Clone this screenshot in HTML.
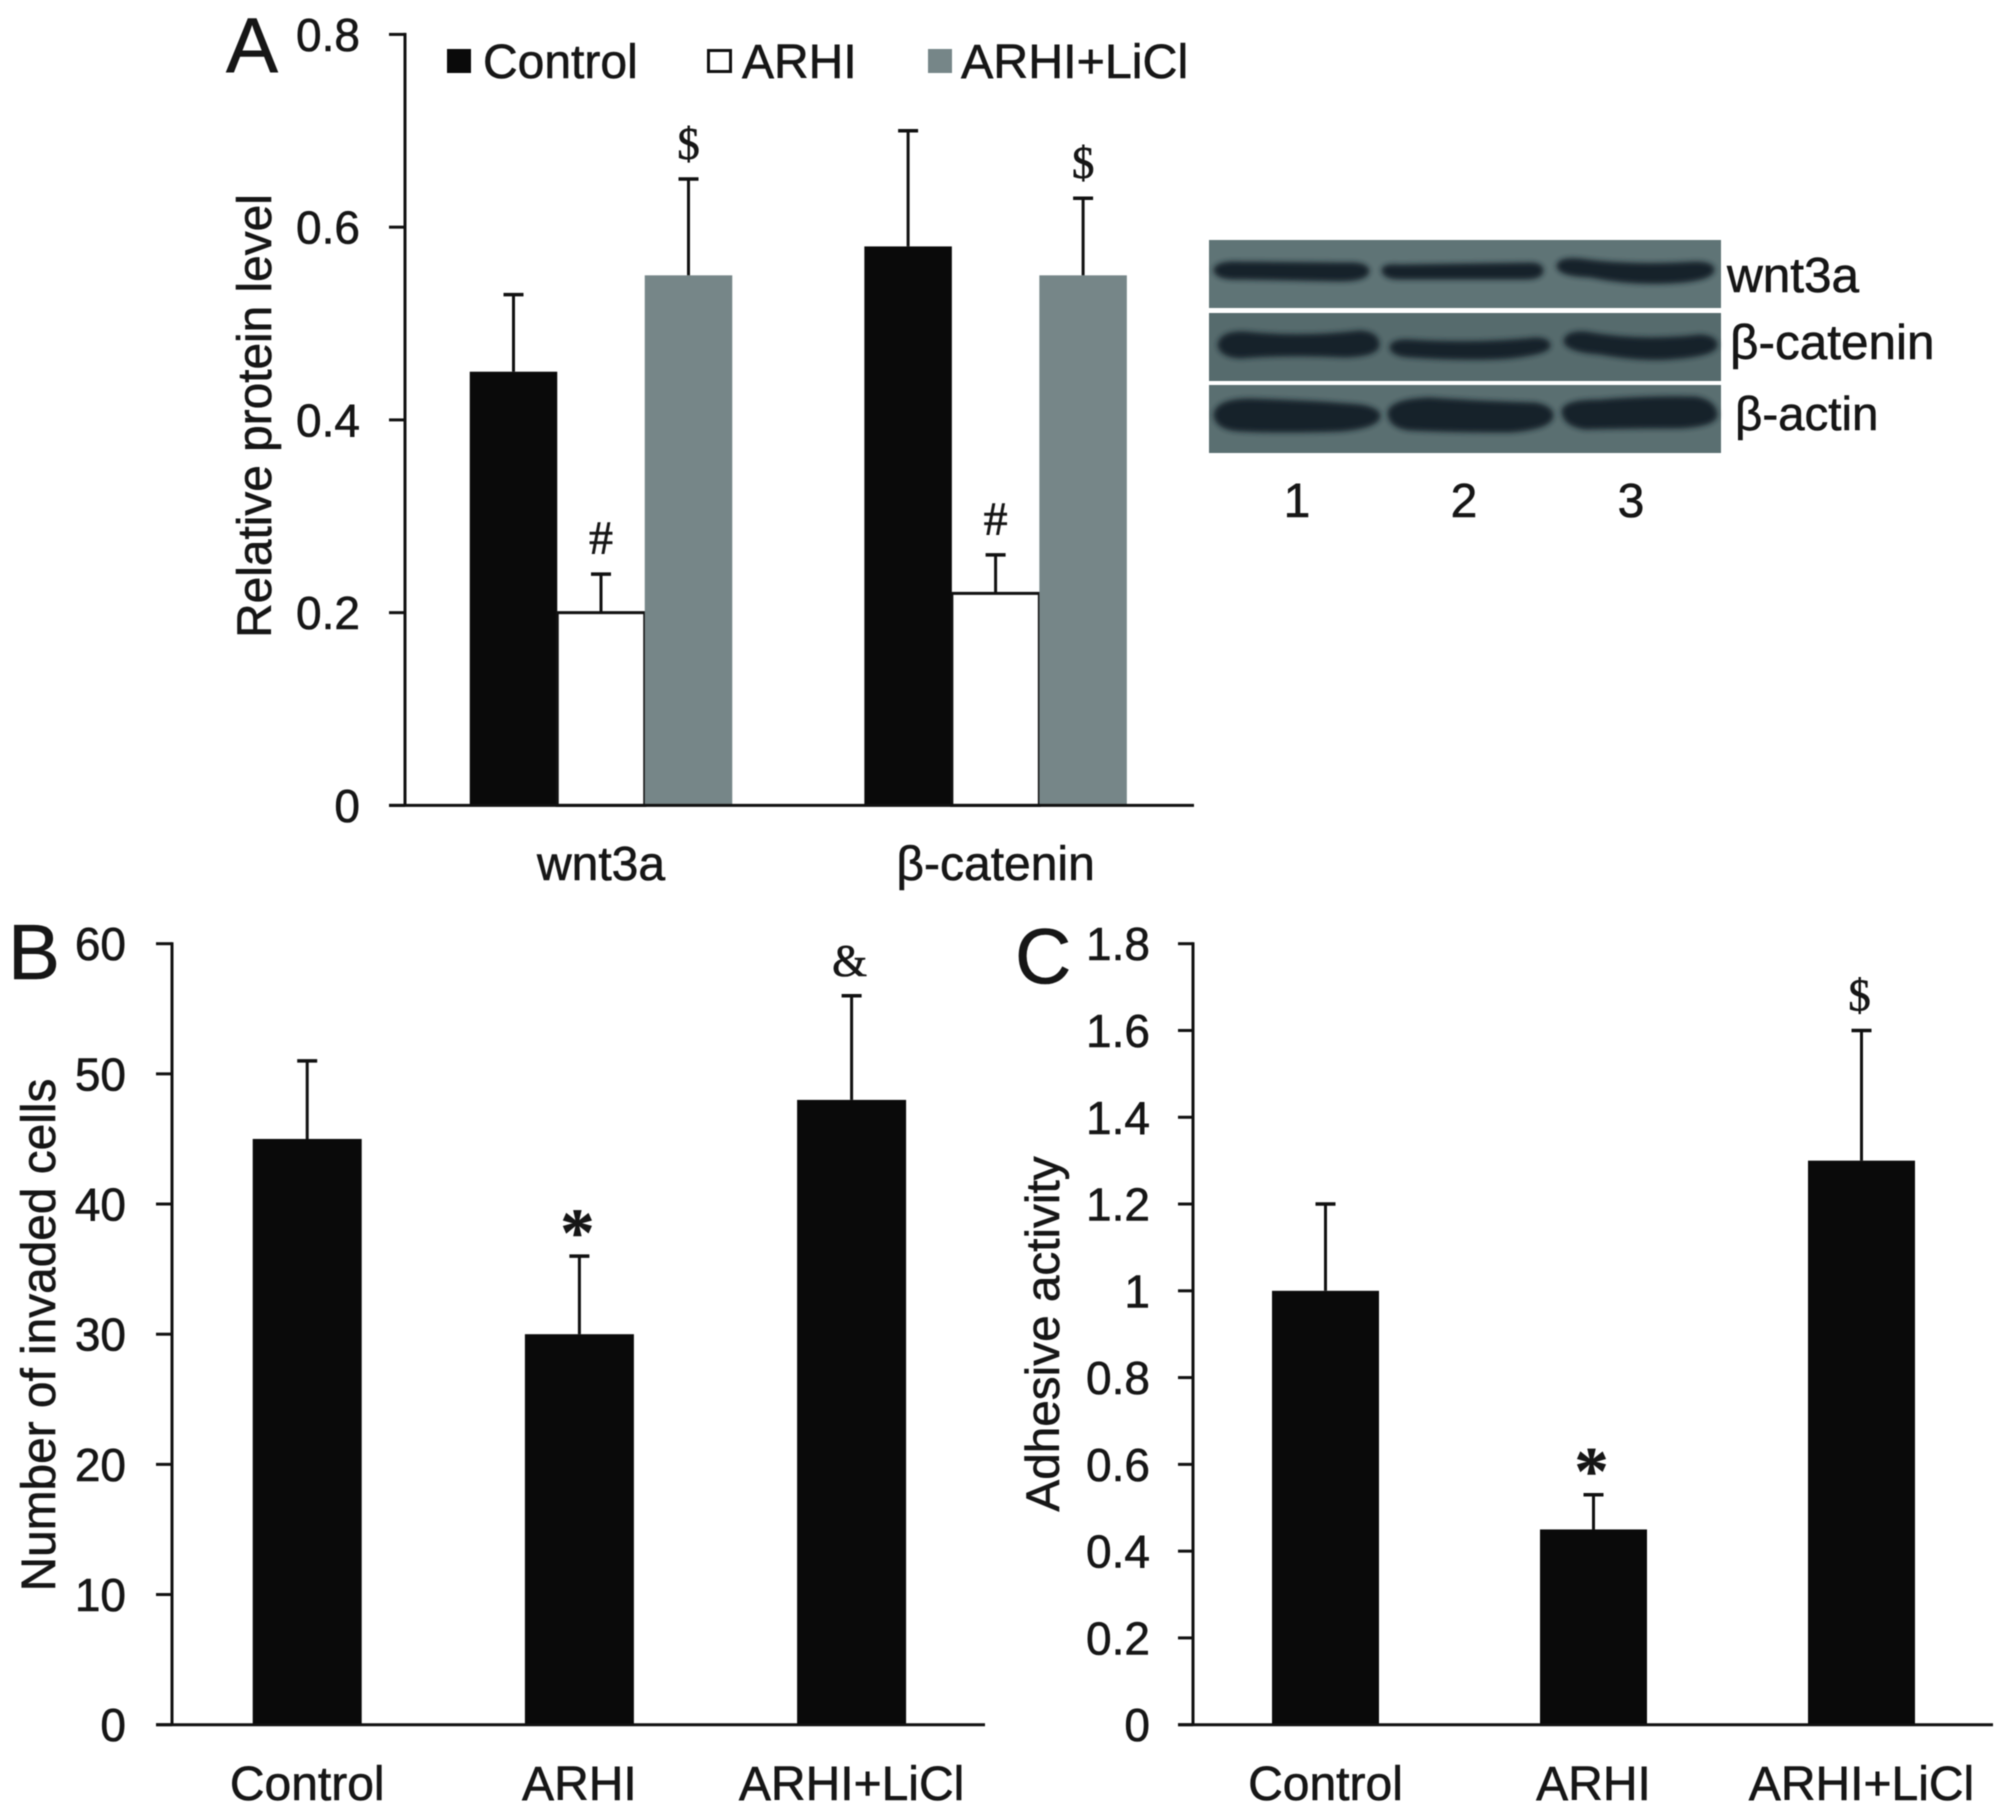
<!DOCTYPE html>
<html lang="en">
<head>
<meta charset="utf-8">
<title>ARHI, wnt3a and β-catenin bar charts</title>
<style>
html,body{margin:0;padding:0;background:#fff;width:2008px;height:1813px;overflow:hidden}
svg{display:block;filter:blur(.5px)}
text{font-family:"Liberation Sans",Arial,sans-serif;fill:#161616;stroke:#161616;stroke-width:.6px}
.ser{font-family:"Liberation Serif","Times New Roman",serif}
</style>
</head>
<body>
<svg id="fig" xmlns="http://www.w3.org/2000/svg" width="2008" height="1813" viewBox="0 0 2008 1813">
  <defs>
    <filter id="bandBlur" x="-10%" y="-60%" width="120%" height="220%"><feGaussianBlur stdDeviation="2.6"/></filter>
  </defs>
  <rect width="2008" height="1813" fill="#fff"/>

  <text x="226" y="72" font-size="78">A</text>
  <text x="8" y="979" font-size="78">B</text>
  <text x="1015" y="983" font-size="78">C</text>

  <text transform="translate(271,416) rotate(-90)" text-anchor="middle" font-size="47.8">Relative protein level</text>
  <text transform="translate(55,1335) rotate(-90)" text-anchor="middle" font-size="47.8">Number of invaded cells</text>
  <text transform="translate(1059,1334) rotate(-90)" text-anchor="middle" font-size="47.7">Adhesive activity</text>

  <g>
    <rect x="447" y="49" width="24" height="24" fill="#0a0a0a"/>
    <text x="483" y="78" font-size="48">Control</text>
    <rect x="708.5" y="50.5" width="22" height="21" fill="#fff" stroke="#111" stroke-width="3"/>
    <text x="742" y="78" font-size="48">ARHI</text>
    <rect x="928" y="49" width="24" height="24" fill="#768688"/>
    <text x="961" y="78" font-size="48.4">ARHI+LiCl</text>
  </g>

  <g>
    <rect x="1209" y="240" width="512" height="68" fill="#5f7476"/>
    <rect x="1209" y="313" width="512" height="68" fill="#566b6d"/>
    <rect x="1209" y="385" width="512" height="68" fill="#5a6f71"/>
    <g filter="url(#bandBlur)" fill="#18232a" stroke="#18232a" stroke-width="5">
      <path d="M1216 270Q1218 263 1240 264L1345 265Q1366 264 1367 271Q1366 279 1340 279L1240 277Q1218 278 1216 270Z"/>
      <path d="M1384 270Q1385 266 1400 267L1530 265Q1541 265 1541 271Q1540 277 1525 277L1400 277Q1385 277 1384 270Z"/>
      <path d="M1559 266Q1560 259 1580 261Q1630 268 1695 264Q1712 264 1712 270Q1710 279 1670 281Q1630 283 1590 275Q1560 274 1559 266Z"/>
      <path d="M1220 345Q1222 333 1245 334Q1300 340 1360 333Q1377 334 1377 345Q1376 354 1345 355Q1290 352 1240 356Q1222 355 1220 345Z"/>
      <path d="M1392 347Q1394 341 1410 342Q1480 346 1535 340Q1548 340 1548 346Q1546 352 1510 356Q1470 359 1410 355Q1393 354 1392 347Z"/>
      <path d="M1566 341Q1568 333 1585 334Q1640 344 1700 337Q1715 338 1715 345Q1714 354 1670 357Q1640 359 1600 352Q1568 350 1566 341Z"/>
      <path d="M1216 415Q1218 401 1250 401Q1320 403 1360 407Q1378 410 1378 416Q1376 426 1340 429Q1280 431 1240 429Q1218 428 1216 415Z"/>
      <path d="M1390 413Q1392 401 1430 400Q1490 404 1535 405Q1551 408 1551 416Q1549 427 1510 430Q1450 430 1410 428Q1391 426 1390 413Z"/>
      <path d="M1564 411Q1566 402 1600 402Q1650 398 1695 399Q1714 402 1715 415Q1714 424 1680 426Q1630 426 1585 427Q1565 424 1564 411Z"/>
    </g>
    <text x="1727" y="292" font-size="49.5">wnt3a</text>
    <text x="1730" y="359" font-size="49.5">β-catenin</text>
    <text x="1735" y="430" font-size="47.5">β-actin</text>
    <text x="1297" y="517" font-size="48" text-anchor="middle">1</text>
    <text x="1464" y="517" font-size="48" text-anchor="middle">2</text>
    <text x="1631" y="517" font-size="48" text-anchor="middle">3</text>
  </g>

  <g id="panelA"></g>
  <g id="panelB"></g>
  <g id="panelC"></g>
</svg>

<script>
// Panel A data
const aCategories = ['wnt3a', 'β-catenin'];
const aSeriesNames = ['control', 'arhi', 'arhi-licl'];
const aControl = [0.45, 0.58];
const aControlErr = [0.08, 0.12];
const aArhi = [0.20, 0.22];
const aArhiErr = [0.04, 0.04];
const aLicl = [0.55, 0.55];
const aLiclErr = [0.10, 0.08];
const aControlMarks = ['', ''];
const aArhiMarks = ['#', '#'];
const aLiclMarks = ['$', '$'];
const aTicks = [0, 0.2, 0.4, 0.6, 0.8];
const aTickLabels = ['0', '0.2', '0.4', '0.6', '0.8'];

// Panel B data
const bCategories = ['Control', 'ARHI', 'ARHI+LiCl'];
const bValues = [45, 30, 48];
const bErrors = [6, 6, 8];
const bMarks = ['', '*', '&'];
const bTicks = [0, 10, 20, 30, 40, 50, 60];
const bTickLabels = ['0', '10', '20', '30', '40', '50', '60'];

// Panel C data
const cCategories = ['Control', 'ARHI', 'ARHI+LiCl'];
const cValues = [1.0, 0.45, 1.3];
const cErrors = [0.2, 0.08, 0.3];
const cMarks = ['', '*', '$'];
const cTicks = [0, 0.2, 0.4, 0.6, 0.8, 1, 1.2, 1.4, 1.6, 1.8];
const cTickLabels = ['0', '0.2', '0.4', '0.6', '0.8', '1', '1.2', '1.4', '1.6', '1.8'];

const NS = 'http://www.w3.org/2000/svg';
const INK = '#111';

function mk(tag, attrs, parent) {
  const el = document.createElementNS(NS, tag);
  for (const k in attrs) el.setAttribute(k, attrs[k]);
  parent.appendChild(el);
  return el;
}

function linearScale(d0, d1, r0, r1) {
  return v => r0 + (v - d0) * (r1 - r0) / (d1 - d0);
}

function drawAxes(g, key, geo, ticks, labels, y) {
  const yAxis = mk('line', {x1: geo.axisX, x2: geo.axisX, y1: y(ticks[ticks.length - 1]) - 1.5, y2: geo.y0, stroke: INK, 'stroke-width': 3}, g);
  
  
  const xAxis = mk('line', {x1: geo.tickX, x2: geo.axisRight, y1: geo.y0, y2: geo.y0, stroke: INK, 'stroke-width': 3}, g);
  
  
  ticks.forEach((t, i) => {
    const tick = mk('line', {x1: geo.tickX, x2: geo.axisX, y1: y(t), y2: y(t), stroke: INK, 'stroke-width': 3}, g);
    
    
    const lab = mk('text', {x: geo.labelRight, y: y(t) + 16.5, 'text-anchor': 'end', 'font-size': 46}, g);
    lab.textContent = labels[i];
    
    
  });
}

function drawBar(g, key, cx, w, value, err, fill, y, geo, outlined) {
  const top = y(value + err);
  const stem = mk('line', {x1: cx, x2: cx, y1: y(value), y2: top, stroke: INK, 'stroke-width': 3}, g);
  
  
  const cap = mk('line', {x1: cx - 10, x2: cx + 10, y1: top, y2: top, stroke: INK, 'stroke-width': 3.5}, g);
  
  
  const attrs = {x: cx - w / 2, y: y(value), width: w, height: geo.y0 - y(value), fill: fill};
  if (outlined) { attrs.stroke = INK; attrs['stroke-width'] = 3; }
  const bar = mk('rect', attrs, g);
  
  
}

function drawMark(g, key, cx, symbol, top) {
  if (!symbol) return;
  const isStar = symbol === '*';
  const isHash = symbol === '#';
  const t = mk('text', {
    x: cx - 2,
    y: isStar ? top - 1 : top - 20,
    'text-anchor': 'middle',
    'font-size': isStar ? 68 : (isHash ? 48 : 45),
    'font-weight': isStar ? 'bold' : 'normal',
    'class': 'ser'
  }, g);
  t.textContent = symbol;
  
  
}

function drawCatLabel(g, key, cx, text, baseline) {
  const t = mk('text', {x: cx, y: baseline, 'text-anchor': 'middle', 'font-size': 48}, g);
  t.textContent = text;
  
  
}

// Panel A: grouped bars
(function () {
  const g = document.getElementById('panelA');
  const geo = {axisX: 405, tickX: 389, axisRight: 1194, labelRight: 360, y0: 805.4};
  const y = linearScale(0, 0.8, 805.4, 34.4);
  const groupX = i => 601 + i * 394.6;
  const bw = 87.5;
  const vals = [aControl, aArhi, aLicl];
  const errs = [aControlErr, aArhiErr, aLiclErr];
  const marks = [aControlMarks, aArhiMarks, aLiclMarks];
  const fills = ['#0a0a0a', '#ffffff', '#768688'];
  aCategories.forEach((cat, i) => {
    vals.forEach((series, s) => {
      const cx = groupX(i) + (s - 1) * bw;
      const key = 'panel-a-' + aSeriesNames[s] + '-' + (i + 1);
      drawBar(g, key, cx, bw, series[i], errs[s][i], fills[s], y, geo, s === 1);
      drawMark(g, key, cx + 2, marks[s][i], y(series[i] + errs[s][i]));
    });
    drawCatLabel(g, 'panel-a-' + (i + 1), groupX(i), cat, 880);
  });
  drawAxes(g, 'panel-a', geo, aTicks, aTickLabels, y);
})();

// Panels B and C: simple bars
function drawSimple(id, key, geo, cats, values, errors, marks, ticks, labels, domainMax) {
  const g = document.getElementById(id);
  const y = linearScale(0, domainMax, geo.y0, geo.yTop);
  const x = i => geo.x0 + i * geo.step;
  cats.forEach((cat, i) => {
    const k = key + '-' + (i + 1);
    drawBar(g, k, x(i), geo.bw, values[i], errors[i], '#0a0a0a', y, geo, false);
    drawMark(g, k, x(i), marks[i], y(values[i] + errors[i]));
    drawCatLabel(g, k, x(i), cat, 1800);
  });
  drawAxes(g, key, geo, ticks, labels, y);
}

drawSimple('panelB', 'panel-b',
  {axisX: 172, tickX: 156, axisRight: 985, labelRight: 126, y0: 1724.7, yTop: 943.7, x0: 307.2, step: 272.2, bw: 109},
  bCategories, bValues, bErrors, bMarks, bTicks, bTickLabels, 60);

drawSimple('panelC', 'panel-c',
  {axisX: 1193, tickX: 1178, axisRight: 1993, labelRight: 1150, y0: 1724.7, yTop: 943.7, x0: 1325.5, step: 268, bw: 107},
  cCategories, cValues, cErrors, cMarks, cTicks, cTickLabels, 1.8);
</script>
</body>
</html>
